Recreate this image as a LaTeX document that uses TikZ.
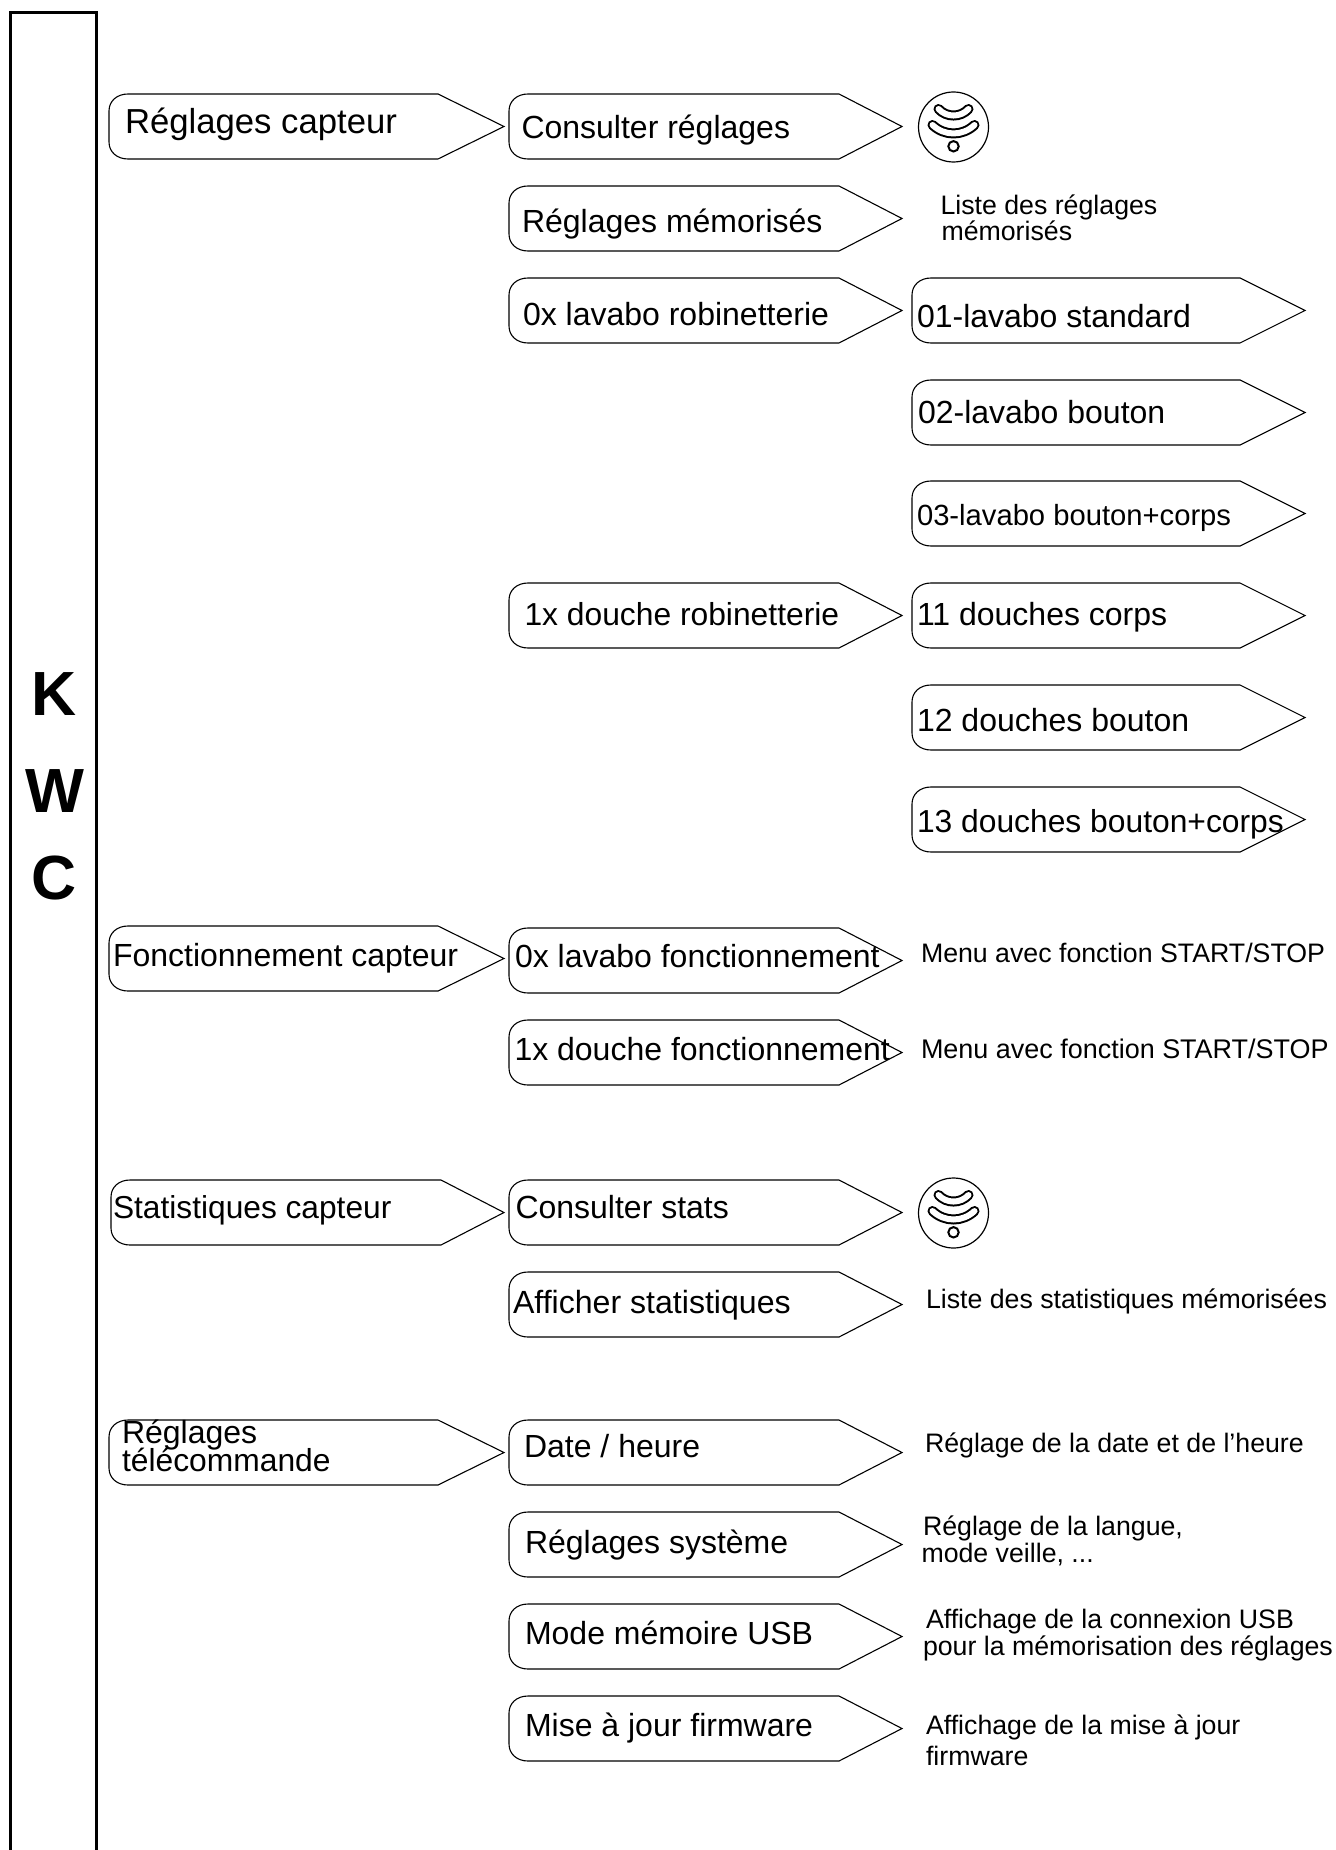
\documentclass[tikz,border=0pt]{standalone}
\usepackage{fontspec}
\setmainfont{Liberation Sans}
\newcommand{\fz}[1]{\fontsize{#1}{#1}\selectfont}
\tikzset{
  arrowshape/.style={draw=black,line width=0.55pt,fill=white,line join=miter},
  lbl/.style={anchor=base west,inner sep=0pt,outer sep=0pt,text=black},
  big/.style={lbl,font=\fz{16}},
  bigger/.style={lbl,font=\fz{17.35}},
  small/.style={lbl,font=\fz{13.36}},
  brand/.style={anchor=base,inner sep=0pt,font=\fz{31.2}\bfseries,text=black},
}
% x, top, shoulder, tip
\newcommand{\arrowbox}[4]{%
  \draw[arrowshape] (#3,#2) -- (#4,#2+32.5) -- (#3,#2+65) -- (#1+19,#2+65)
    .. controls (#1+8,#2+65) and (#1,#2+58) .. (#1,#2+48) -- (#1,#2+17)
    .. controls (#1,#2+7) and (#1+8,#2) .. (#1+19,#2) -- cycle;}
\newcommand{\sensoricon}[2]{%
  \draw[line width=0.6pt] (#1,#2) circle (35);
  \draw[line width=5pt,line cap=round] (#1-15,#2-18) .. controls (#1-7,#2-9.3) and (#1+7,#2-9.3) .. (#1+15,#2-18);
  \draw[white,line width=3pt,line cap=round] (#1-15,#2-18) .. controls (#1-7,#2-9.3) and (#1+7,#2-9.3) .. (#1+15,#2-18);
  \draw[line width=5pt,line cap=round] (#1-21,#2-2) .. controls (#1-9,#2+9.3) and (#1+9,#2+9.3) .. (#1+21,#2-2);
  \draw[white,line width=3pt,line cap=round] (#1-21,#2-2) .. controls (#1-9,#2+9.3) and (#1+9,#2+9.3) .. (#1+21,#2-2);
  \draw[line width=1pt] (#1,#2+19.3) circle (5.2);}
\begin{document}
\begin{tikzpicture}[x=0.5pt,y=-0.5pt]
\useasboundingbox (0,0) rectangle (1335,1850);
\fill[white] (0,0) rectangle (1335,1850);
\draw[line width=1.5pt] (10,1860) -- (10,13) -- (96,13) -- (96,1860);
\node[brand] (k) at (54.5,715) {K};
\node[brand] (w) at (54.5,812) {W};
\node[brand] (c) at (54.5,899) {C};
% column 1
\arrowbox{109}{94}{438}{504}
\arrowbox{109}{926}{438}{504}
\arrowbox{111}{1180}{441}{504}
\arrowbox{109}{1420}{438}{504}
% column 2
\foreach \t in {94,186,278,583,928,1020,1180,1272,1420,1512,1604,1696}
  {\arrowbox{509}{\t}{839}{902}}
% column 3
\foreach \t in {278,380,481,583,685,787}
  {\arrowbox{912}{\t}{1240}{1305}}
\sensoricon{953.5}{127}
\sensoricon{953.5}{1213}
\node[bigger] (t1) at (125,134) {Réglages capteur};
\node[big] (t2) at (521.5,139) {Consulter réglages};
\node[big] (t3) at (522,233) {Réglages mémorisés};
\node[big] (t4) at (523,326) {0x lavabo robinetterie};
\node[big] (t5) at (917,328) {01-lavabo standard};
\node[big] (t6) at (918,423) {02-lavabo bouton};
\node[lbl,font=\fz{14.6}] (t7) at (917,525) {03-lavabo bouton+corps};
\node[big,font=\fz{15.9}] (t8) at (524.5,625) {1x douche robinetterie};
\node[big] (t9) at (917,625) {11 douches corps};
\node[big] (t10) at (917,731) {12 douches bouton};
\node[big,font=\fz{15.9}] (t11) at (917,832) {13 douches bouton+corps};
\node[big] (t12) at (113,966) {Fonctionnement capteur};
\node[big] (t13) at (515,967) {0x lavabo fonctionnement};
\node[big] (t14) at (514.5,1060) {1x douche fonctionnement};
\node[big,font=\fz{15.85}] (t15) at (113,1218) {Statistiques capteur};
\node[big] (t16) at (515.5,1218) {Consulter stats};
\node[big,font=\fz{16.05}] (t17) at (513,1313) {Afficher statistiques};
\node[big] (t18) at (122,1443.5) {Réglages};
\node[big,font=\fz{15.9}] (t19) at (122,1471.5) {télécommande};
\node[big] (t20) at (524,1457) {Date / heure};
\node[big] (t21) at (525,1553) {Réglages système};
\node[big] (t22) at (525,1644) {Mode mémoire USB};
\node[big] (t23) at (525,1736) {Mise à jour firmware};
\node[small] (s1) at (940.5,214.5) {Liste des réglages};
\node[small] (s2) at (941.5,240.5) {mémorisés};
\node[small] (s3) at (921,962) {Menu avec fonction START/STOP};
\node[lbl,font=\fz{13.48}] (s4) at (921,1058) {Menu avec fonction START/STOP};
\node[small] (s5) at (926,1308) {Liste des statistiques mémorisées};
\node[small] (s6) at (925,1452) {Réglage de la date et de l’heure};
\node[small] (s7) at (923,1535) {Réglage de la langue,};
\node[small] (s8) at (921.5,1562) {mode veille, ...};
\node[small] (s9) at (926,1628.5) {Affichage de la connexion USB};
\node[small] (s10) at (923,1655) {pour la mémorisation des réglages};
\node[small] (s11) at (926,1734.5) {Affichage de la mise à jour};
\node[small] (s12) at (926,1765) {firmware};
\end{tikzpicture}
\end{document}
